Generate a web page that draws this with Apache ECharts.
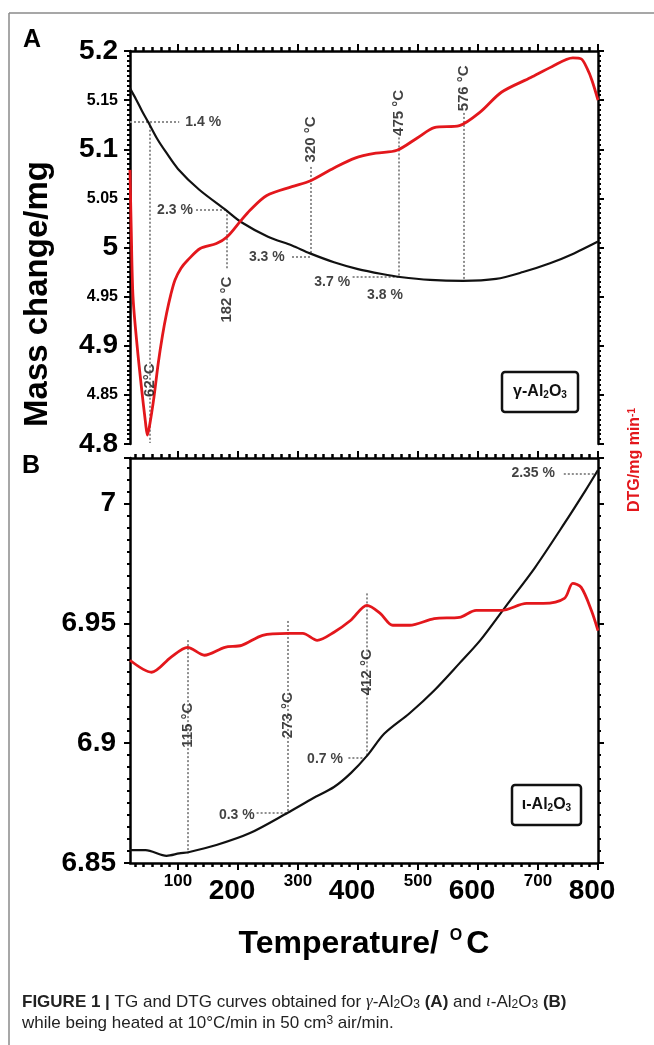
<!DOCTYPE html>
<html><head><meta charset="utf-8">
<script src="https://cdn.jsdelivr.net/npm/echarts@6/dist/echarts.min.js"></script>
<style>html,body{margin:0;padding:0;background:#fff}#c{width:654px;height:1045px}</style>
</head><body><div id="c"></div>
<script>
// ---------------- data ----------------
// Panel A (gamma-Al2O3): TG (mass, mg) and DTG (unlabelled right axis, drawn on same span)
const tA_TG   = [20, 30, 40, 50, 65, 80, 100, 135, 180, 205, 250, 290, 320, 360, 400, 440, 470, 520, 575, 630, 675, 720, 760, 800];
const mA_TG   = [5.162, 5.151, 5.139, 5.128, 5.111, 5.097, 5.080, 5.059, 5.038, 5.026, 5.011, 5.002, 4.994, 4.985, 4.978, 4.973, 4.970, 4.967, 4.966, 4.968, 4.975, 4.984, 4.994, 5.006];
const tA_DTG  = [20, 22, 25, 32, 39, 46, 49, 53, 60, 67, 74, 81, 88, 95, 105, 116, 137, 164, 182, 203, 220, 248, 290, 321, 360, 395, 430, 465, 500, 527, 569, 604, 639, 688, 723, 758, 772, 782, 790, 800];
const dA_DTG  = [5.079, 5.020, 4.950, 4.899, 4.858, 4.821, 4.809, 4.820, 4.848, 4.882, 4.910, 4.933, 4.952, 4.967, 4.979, 4.987, 4.999, 5.004, 5.011, 5.026, 5.038, 5.053, 5.062, 5.068, 5.081, 5.091, 5.096, 5.099, 5.112, 5.122, 5.124, 5.138, 5.158, 5.173, 5.184, 5.193, 5.192, 5.182, 5.170, 5.150];
// Panel B (iota-Al2O3)
const tB_TG   = [20, 46, 81, 102, 119, 164, 220, 283, 325, 360, 388, 416, 444, 486, 527, 569, 604, 646, 695, 744, 779, 800];
const mB_TG   = [6.8554, 6.8554, 6.8530, 6.8540, 6.8546, 6.8575, 6.8625, 6.8710, 6.8770, 6.8817, 6.8875, 6.8950, 6.9040, 6.9125, 6.9220, 6.9333, 6.9430, 6.9570, 6.9733, 6.9917, 7.0054, 7.0140];
const tB_DTG  = [20, 56, 88, 116, 144, 178, 206, 241, 283, 308, 332, 360, 388, 415, 437, 458, 486, 527, 569, 597, 639, 681, 709, 744, 758, 772, 789, 800];
const dB_DTG  = [6.9346, 6.9296, 6.9358, 6.9400, 6.9367, 6.9400, 6.9408, 6.9450, 6.9458, 6.9458, 6.9429, 6.9463, 6.9513, 6.9575, 6.9542, 6.9492, 6.9492, 6.9520, 6.9525, 6.9554, 6.9554, 6.9583, 6.9583, 6.9604, 6.9667, 6.9650, 6.9554, 6.9470];

// tick labels
const xLabelsSmall = [100, 300, 500, 700];
const xLabelsLarge = [200, 400, 600, 800];
const xMajorTicks  = [100, 200, 300, 400, 500, 600, 700, 800];
const yLabelsA = [4.8, 4.85, 4.9, 4.95, 5, 5.05, 5.1, 5.15, 5.2];
const yLabelsA_big = ['4.8', '4.9', '5', '5.1', '5.2'];
const yLabelsB = [6.85, 6.9, 6.95, 7];

// annotations: guide segments [t1, v1, t2, v2], labels [t, v, text]
const guidesA = [[53,5.128,53,4.801],[20,5.128,102,5.128],[182,5.038,182,4.977],[130,5.038,182,5.038],
                 [321,5.082,321,4.994],[290,4.991,321,4.991],[468,5.112,468,4.970],[391,4.970,468,4.970],[576,5.137,576,4.967]];
const tempLabelsA = [[53,4.865,'62°C'],[182,4.947,'182 °C'],[321,5.110,'320 °C'],[468,5.137,'475 °C'],[576,5.162,'576 °C']];
const pctLabelsA  = [[142,5.128,'1.4 %'],[95,5.038,'2.3 %'],[248,4.990,'3.3 %'],[357,4.965,'3.7 %'],[445,4.952,'3.8 %']];
const guidesB = [[117,6.943,117,6.854],[283,6.951,283,6.871],[231,6.8708,283,6.8708],[414,6.9625,414,6.895],[384,6.894,412,6.894],[743,7.0125,797,7.0125]];
const tempLabelsB = [[117,6.9075,'115 °C'],[283,6.9117,'273 °C'],[414,6.9296,'412 °C']];
const pctLabelsB  = [[198,6.870,'0.3 %'],[345,6.8933,'0.7 %'],[692,7.0125,'2.35 %']];

// ---------------- chart ----------------
const FONT = '"Liberation Sans", Arial, Helvetica, sans-serif';
const X_MIN = 20, X_MAX = 800;
const xMinorTicks = [];
for (let k = 1; k <= 56; k++) { const v = 100 * k / 7; if (v >= X_MIN && k % 7 !== 0) xMinorTicks.push(+v.toFixed(3)); }
const zip = (a, b) => a.map((x, i) => [x, b[i]]);
const lineSt = { color: '#000', width: 2.5 };

function xAx(grid, pos, extra) {
  return Object.assign({
    type: 'value', gridIndex: grid, position: pos, min: X_MIN, max: X_MAX,
    axisLine: { show: false }, axisTick: { show: false }, axisLabel: { show: false }, splitLine: { show: false }
  }, extra);
}
const majorTick = { show: true, inside: false, length: 7, lineStyle: { color: '#000', width: 2 }, customValues: xMajorTicks };
const minorTickX = { show: true, inside: false, length: 4, lineStyle: { color: '#000', width: 2.5 }, customValues: xMinorTicks };

function yAx(grid, pos, min, max, extra) {
  return Object.assign({
    type: 'value', gridIndex: grid, position: pos, min: min, max: max, interval: 0.05,
    axisLine: { show: true, lineStyle: lineSt },
    axisTick: { show: true, inside: false, length: 6, lineStyle: { color: '#000', width: 2 } },
    minorTick: { show: true, splitNumber: 10, length: 3, lineStyle: { color: '#000', width: 2 } },
    axisLabel: { show: false }, splitLine: { show: false }, minorSplitLine: { show: false }
  }, extra);
}

const xAxis = [
  xAx(0, 'top', { axisLine: { show: true, lineStyle: lineSt }, axisTick: majorTick }),
  xAx(0, 'top', { axisTick: minorTickX }),
  xAx(1, 'bottom', { axisLine: { show: true, lineStyle: lineSt }, axisTick: majorTick,
    axisLabel: { show: true, customValues: xLabelsSmall, fontSize: 17, fontWeight: 'bold', fontFamily: FONT, color: '#000', margin: 10 } }),
  xAx(1, 'bottom', { axisLabel: { show: true, customValues: xLabelsLarge, fontSize: 28, fontWeight: 'bold', fontFamily: FONT, color: '#000', margin: 14, padding: [0, 12, 0, 0] } }),
  xAx(1, 'bottom', { axisTick: minorTickX }),
  xAx(1, 'top', { axisLine: { show: true, lineStyle: lineSt }, axisTick: majorTick }),
  xAx(1, 'top', { axisTick: minorTickX })
];

const yAxis = [
  yAx(0, 'left', 4.8, 5.2, { axisLabel: { show: true, customValues: yLabelsA, margin: 12, color: '#000',
      formatter: v => { const s = String(+(+v).toFixed(2)); return yLabelsA_big.indexOf(s) >= 0 ? '{b|' + s + '}' : '{s|' + s + '}'; },
      rich: { b: { fontSize: 28, fontWeight: 'bold', fontFamily: FONT, color: '#000' },
              s: { fontSize: 16, fontWeight: 'bold', fontFamily: FONT, color: '#000' } } } }),
  yAx(0, 'right', 4.8, 5.2, {}),
  yAx(1, 'left', 6.85, 7.019, { axisLabel: { show: true, customValues: yLabelsB, margin: 14, color: '#000',
      fontSize: 28, fontWeight: 'bold', fontFamily: FONT, formatter: v => String(+(+v).toFixed(2)) } }),
  yAx(1, 'right', 6.85, 7.019, {})
];

function curve(xi, yi, xs, ys, color, w) {
  return { type: 'line', xAxisIndex: xi, yAxisIndex: yi, data: zip(xs, ys), showSymbol: false, smooth: 0.3,
           lineStyle: { color: color, width: w }, z: 3, silent: true };
}
function guides(xi, yi, segs) {
  return { type: 'lines', coordinateSystem: 'cartesian2d', xAxisIndex: xi, yAxisIndex: yi, z: 2, silent: true,
           lineStyle: { color: '#8f8f8f', width: 2, type: 'dotted', opacity: 1 },
           data: segs.map(s => ({ coords: [[s[0], s[1]], [s[2], s[3]]] })) };
}
function labels(xi, yi, items, rotate, size) {
  return { type: 'scatter', xAxisIndex: xi, yAxisIndex: yi, symbolSize: 1, itemStyle: { color: 'rgba(0,0,0,0)' }, z: 5, silent: true,
           data: items.map(d => ({ value: [d[0], d[1]], name: d[2] })),
           label: { show: true, position: 'inside', rotate: rotate, formatter: p => p.name, fontSize: size, fontWeight: 'bold',
                    fontFamily: FONT, color: '#111' } };
}

const series = [
  guides(0, 0, guidesA), guides(2, 2, guidesB),
  curve(0, 0, tA_TG, mA_TG, '#111', 2.2),
  curve(0, 1, tA_DTG, dA_DTG, '#e3171c', 2.8),
  curve(2, 2, tB_TG, mB_TG, '#111', 2.2),
  curve(2, 3, tB_DTG, dB_DTG, '#e3171c', 2.8),
  labels(0, 0, tempLabelsA, 90, 15), labels(0, 0, pctLabelsA, 0, 14),
  labels(2, 2, tempLabelsB, 90, 15), labels(2, 2, pctLabelsB, 0, 14)
];

function box(x, y, w, h, prefix) {
  return { type: 'group', x: x, y: y, children: [
    { type: 'rect', shape: { x: 0, y: 0, width: w, height: h, r: 3 }, style: { fill: '#fff', stroke: '#111', lineWidth: 2.5 } },
    { type: 'text', x: w / 2, y: h / 2, style: { text: prefix + '-Al{s|2}O{s|3}', align: 'center', verticalAlign: 'middle',
      fontSize: 16, fontWeight: 'bold', fontFamily: FONT, fill: '#111',
      rich: { s: { fontSize: 10, fontWeight: 'bold', fontFamily: FONT, fill: '#111', verticalAlign: 'bottom', padding: [6, 0, 0, 0] } } } }
  ] };
}

const graphic = [
  { type: 'line', shape: { x1: 9, y1: 13, x2: 654, y2: 13 }, style: { stroke: '#8a8a8a', lineWidth: 1.5 } },
  { type: 'line', shape: { x1: 9, y1: 13, x2: 9, y2: 1045 }, style: { stroke: '#8a8a8a', lineWidth: 1.5 } },
  { type: 'text', x: 32, y: 40, style: { text: 'A', fontSize: 25, fontWeight: 'bold', fontFamily: FONT, fill: '#000', align: 'center', verticalAlign: 'middle' } },
  { type: 'text', x: 31, y: 466, style: { text: 'B', fontSize: 25, fontWeight: 'bold', fontFamily: FONT, fill: '#000', align: 'center', verticalAlign: 'middle' } },
  { type: 'text', x: 38, y: 294, rotation: Math.PI / 2, style: { text: 'Mass change/mg', fontSize: 33, fontWeight: 'bold', fontFamily: FONT, fill: '#000', align: 'center', verticalAlign: 'middle' } },
  { type: 'text', x: 635, y: 460, rotation: Math.PI / 2, style: { text: 'DTG/mg min{u|-1}', fontSize: 16, fontWeight: 'bold', fontFamily: FONT, fill: '#e3171c', align: 'center', verticalAlign: 'middle',
      rich: { u: { fontSize: 10, fontWeight: 'bold', fontFamily: FONT, fill: '#e3171c', verticalAlign: 'top' } } } },
  { type: 'text', x: 364, y: 944, style: { text: 'Temperature/ {u|O}C', fontSize: 32, fontWeight: 'bold', fontFamily: FONT, fill: '#000', align: 'center', verticalAlign: 'middle',
      rich: { u: { fontSize: 16, fontWeight: 'bold', fontFamily: FONT, fill: '#000', verticalAlign: 'top', padding: [0, 4, 0, 2] } } } },
  box(502, 372, 76, 40, 'γ'),
  box(512, 785, 69, 40, 'ι'),
  { type: 'text', x: 22, y: 1002, style: {
      text: '{b|FIGURE 1 |} TG and DTG curves obtained for {g|γ}-Al{s|2}O{s|3} {b|(A)} and {g|ι}-Al{s|2}O{s|3} {b|(B)}',
      fontSize: 17, fontFamily: FONT, fill: '#222', verticalAlign: 'middle',
      rich: { b: { fontSize: 17, fontWeight: 'bold', fontFamily: FONT, fill: '#222' },
              g: { fontSize: 17, fontStyle: 'italic', fontFamily: '"Liberation Serif", serif', fill: '#222' },
              s: { fontSize: 12, fontFamily: FONT, fill: '#222', verticalAlign: 'bottom' } } } },
  { type: 'text', x: 22, y: 1023, style: {
      text: 'while being heated at 10°C/min in 50 cm{u|3} air/min.',
      fontSize: 17, fontFamily: FONT, fill: '#222', verticalAlign: 'middle',
      rich: { u: { fontSize: 12, fontFamily: FONT, fill: '#222', verticalAlign: 'top' } } } }
];

const chart = echarts.init(document.getElementById('c'), null, { renderer: 'canvas' });
chart.setOption({
  animation: false,
  backgroundColor: '#fff',
  grid: [
    { left: 130, top: 51, width: 468, height: 393, outerBoundsMode: 'none', containLabel: false },
    { left: 130, top: 458, width: 468, height: 405, outerBoundsMode: 'none', containLabel: false }
  ],
  xAxis: xAxis, yAxis: yAxis, series: series, graphic: graphic
});
</script></body></html>
